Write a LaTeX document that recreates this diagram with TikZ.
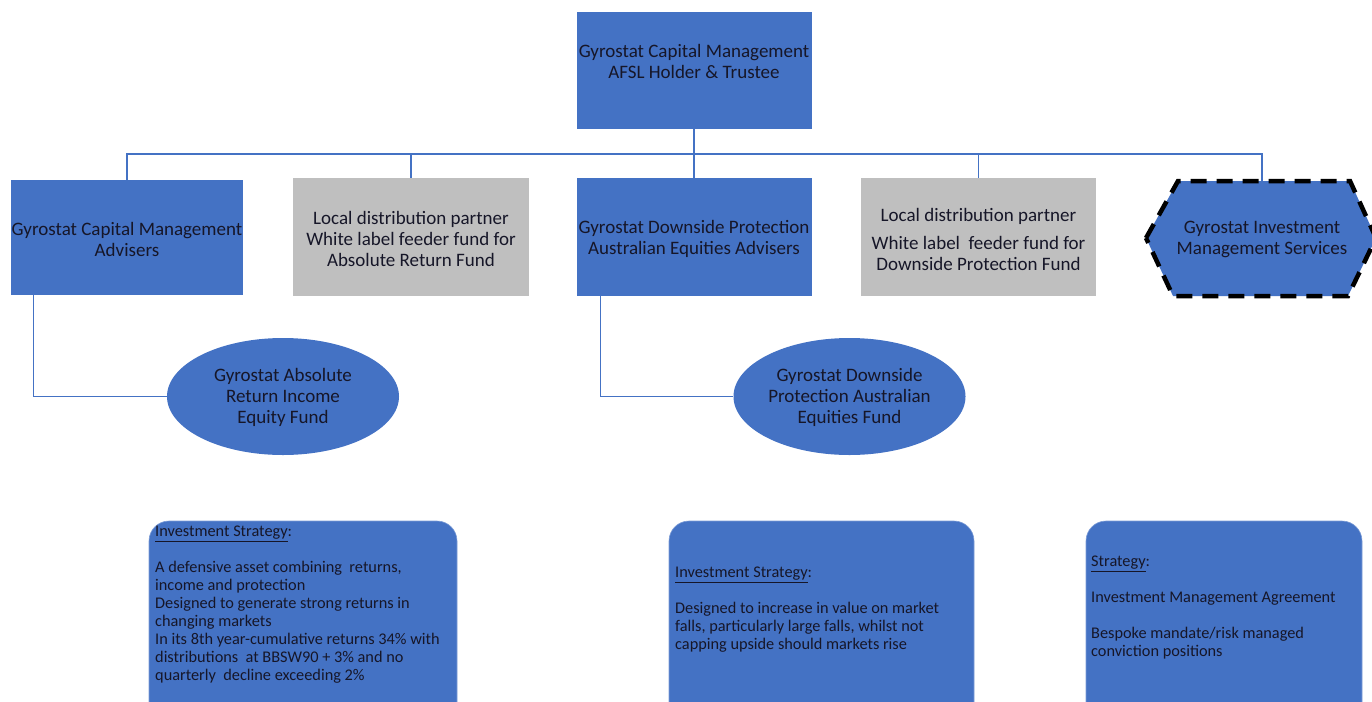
\documentclass[tikz,border=0pt]{standalone}
\usepackage{fontspec}
\setmainfont{Carlito}
\usetikzlibrary{shapes.geometric}
\definecolor{obl}{HTML}{4472C4}
\definecolor{ogr}{HTML}{BFBFBF}
\definecolor{otx}{RGB}{22,22,40}
\begin{document}
\begin{tikzpicture}[x=1pt,y=-1pt,
  conn/.style={draw=obl,line width=1.2pt},
  bigfont/.style={font=\fontsize{19}{21}\selectfont},
  smallfont/.style={font=\fontsize{16.3}{18}\selectfont},
  bluebox/.style={fill=obl,draw=none,inner sep=0pt,rectangle},
  graybox/.style={fill=ogr,draw=none,inner sep=0pt,rectangle},
  lbl/.style={bigfont,text=otx,align=center,inner sep=0pt},
  oval/.style={ellipse,fill=obl,draw=none,inner sep=0pt,minimum width=232pt,minimum height=117pt},
  stratbox/.style={fill=obl,draw=obl!70!white,line width=0.6pt,rounded corners=20pt},
  strat/.style={smallfont,text=otx,align=left,inner sep=0pt,anchor=north west}]
\useasboundingbox (0,0) rectangle (1372,701);
\clip (0,0) rectangle (1372,701);

% top box
\node[bluebox,minimum width=235pt,minimum height=117pt] (top) at (694,70.5) {};
\node[lbl] (topt) at (694,61.5) {Gyrostat Capital Management\\AFSL Holder \& Trustee};

% second row
\node[bluebox,minimum width=232pt,minimum height=115pt] (b1) at (127,237.5) {};
\node[lbl] (b1t) at (127,239) {Gyrostat Capital Management\\Advisers};
\node[graybox,minimum width=236pt,minimum height=118pt] (b2) at (411,237) {};
\node[lbl] (b2t) at (411,239) {Local distribution partner\\White label feeder fund for\\Absolute Return Fund};
\node[bluebox,minimum width=235pt,minimum height=118pt] (b3) at (694,237) {};
\node[lbl] (b3t) at (694,239) {Gyrostat Downside Protection\\Australian Equities Advisers};
\node[graybox,minimum width=235pt,minimum height=118pt] (b4) at (978.5,237) {};
\node[lbl] (b4t) at (978.5,239) {Local distribution partner\\[7pt]White label\ \ feeder fund for\\Downside Protection Fund};

% hexagon
\coordinate (hx) at (1262,181);
\filldraw[fill=obl,draw=black,line width=4.5pt,dash pattern=on 16pt off 10pt,line join=miter]
  (1146,238) -- (1178,181) -- (1350,181) -- (1376,238) -- (1348,296) -- (1173,296) -- cycle;
\node[lbl] (b5t) at (1262,239) {Gyrostat Investment\\Management Services};

% bus
\coordinate (bus) at (694,154);
\draw[conn] (top.south) -- (bus);
\draw[conn] (bus) -| (b1.north);
\draw[conn] (bus) -| (b2.north);
\draw[conn] (bus) -| (b3.north);
\draw[conn] (bus) -| (b4.north);
\draw[conn] (bus) -| (hx);

% ellipses
\node[oval] (e1) at (283,396.5) {};
\node[lbl] (e1t) at (283,397.5) {Gyrostat Absolute\\Return Income\\Equity Fund};
\node[oval] (e2) at (849.5,396.5) {};
\node[lbl] (e2t) at (849.5,397.5) {Gyrostat Downside\\Protection Australian\\Equities Fund};
\draw[conn] (b1.south west) ++(23,0) |- (e1.west);
\draw[conn] (b3.south west) ++(24,0) |- (e2.west);

% strategy boxes
\filldraw[stratbox] (149,521) rectangle (457,730);
\node[strat] (s1) at (155,526) {\underline{Investment Strategy}:\\[18pt]A defensive asset combining\ \ returns,\\income and protection\\Designed to generate strong returns in\\changing markets\\In its 8th year-cumulative returns 34\% with\\distributions\ \ at BBSW90 + 3\% and no\\quarterly\ \ decline exceeding 2\%};
\filldraw[stratbox] (669,521) rectangle (974,730);
\node[strat] (s2) at (675,567) {\underline{Investment Strategy}:\\[18pt]Designed to increase in value on market\\falls, particularly large falls, whilst not\\capping upside should markets rise};
\filldraw[stratbox] (1086,521) rectangle (1362,730);
\node[strat] (s3) at (1091,556) {\underline{Strategy}:\\[18pt]Investment Management Agreement\\[18pt]Bespoke mandate/risk managed\\conviction positions};
\end{tikzpicture}
\end{document}
